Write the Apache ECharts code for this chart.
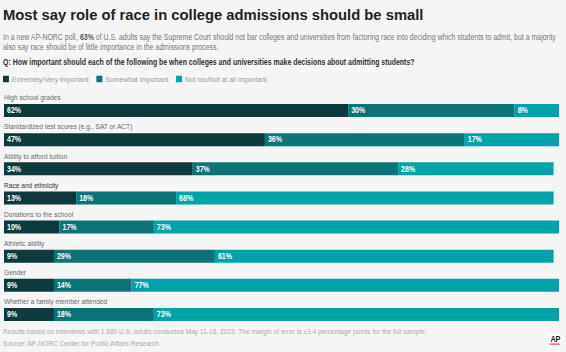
<!DOCTYPE html>
<html>
<head>
<meta charset="utf-8">
<script src="https://cdn.jsdelivr.net/npm/echarts@6/dist/echarts.min.js"></script>
<style>
  html, body { margin: 0; padding: 0; background: #f5f5f5; overflow: hidden; }
  /* the reference uses a narrow face; squeeze the whole drawing horizontally */
  #chart { width: 666px; height: 352px; transform: scaleX(0.85); transform-origin: 0 0; }
</style>
</head>
<body>
<div id="chart"></div>
<script>
var FONT = '"Liberation Sans", Arial, sans-serif';
var SQ = 0.85; // horizontal squeeze of the container

var categories = [
    'High school grades',
    'Standardized test scores (e.g., SAT or ACT)',
    'Ability to afford tuition',
    'Race and ethnicity',
    'Donations to the school',
    'Athletic ability',
    'Gender',
    'Whether a family member attended'
];
var seriesNames = ['Extremely/Very important', 'Somewhat important', 'Not too/Not at all important'];
var veryImportant = [62, 47, 34, 13, 10, 9, 9, 9];
var somewhatImportant = [30, 36, 37, 18, 17, 29, 14, 18];
var notImportant = [8, 17, 28, 68, 73, 61, 77, 73];
var colors = ['#0e3a3d', '#0c7477', '#00a3a7'];

var chart = echarts.init(document.getElementById('chart'), null, { renderer: 'svg' });

function barSeries(name, data, color) {
    return {
        name: name,
        type: 'bar',
        stack: 'total',
        data: data,
        barWidth: 13,
        itemStyle: { color: color },
        label: {
            show: true,
            position: 'insideLeft',
            distance: 3.5,
            formatter: '{c}%',
            color: '#fff',
            fontFamily: FONT,
            fontWeight: 'bold',
            fontSize: 8.3
        },
        emphasis: { disabled: true }
    };
}

var option = {
    backgroundColor: '#f5f5f5',
    animation: false,
    textStyle: { fontFamily: FONT },
    legend: {
        left: 3.5,
        top: 75,
        padding: 0,
        itemWidth: 7,
        itemHeight: 6.5,
        itemGap: 9,
        icon: 'rect',
        textStyle: { color: '#999', fontSize: 8.1, fontFamily: FONT, padding: [0, 0, 0, -1.5] },
        data: seriesNames
    },
    grid: { left: 4.7, right: 8.2, top: 96, height: 233, containLabel: false },
    xAxis: {
        type: 'value',
        min: 0,
        max: 100,
        show: false
    },
    yAxis: {
        type: 'category',
        data: categories,
        inverse: true,
        axisLine: { show: false },
        axisTick: { show: false },
        axisLabel: {
            inside: true,
            margin: 0,
            align: 'left',
            verticalAlign: 'bottom',
            padding: [0, 0, 9, 0],
            fontSize: 7.8,
            fontFamily: FONT,
            color: function (v) { return v === 'Race and ethnicity' ? '#333' : '#6a6a6a'; }
        }
    },
    series: [
        barSeries(seriesNames[0], veryImportant, colors[0]),
        barSeries(seriesNames[1], somewhatImportant, colors[1]),
        barSeries(seriesNames[2], notImportant, colors[2])
    ],
    graphic: [
        {
            type: 'text', left: 3.5, top: 7.5, scaleX: 1 / SQ,
            style: { text: 'Most say role of race in college admissions should be small', font: 'bold 14.8px ' + FONT, fill: '#222' }
        },
        {
            type: 'text', left: 3.5, top: 32,
            style: {
                text: 'In a new AP-NORC poll, {b|63%} of U.S. adults say the Supreme Court should not bar colleges and universities from factoring race into deciding which students to admit, but a majority\nalso say race should be of little importance in the admissions process.',
                font: '8.2px ' + FONT,
                fill: '#777',
                lineHeight: 10.5,
                rich: { b: { font: 'bold 8.2px ' + FONT, fill: '#555' } }
            }
        },
        {
            type: 'text', left: 3.5, top: 58,
            style: { text: 'Q: How important should each of the following be when colleges and universities make decisions about admitting students?', font: 'bold 8.2px ' + FONT, fill: '#333' }
        },
        {
            type: 'text', left: 3.5, top: 326,
            style: {
                text: 'Results based on interviews with 1,680 U.S. adults conducted May 11-16, 2023. The margin of error is \u00b13.4 percentage points for the full sample.\nSource: AP-NORC Center for Public Affairs Research',
                font: '7.8px ' + FONT,
                fill: '#aaa',
                lineHeight: 11.5
            }
        },
        {
            type: 'rect', left: 646, top: 334,
            shape: { width: 13, height: 9.5 },
            style: { fill: '#fff' }
        },
        {
            type: 'text', left: 647.5, top: 335,
            style: { text: 'AP', font: 'bold 8.5px ' + FONT, fill: '#222' }
        },
        {
            type: 'rect', left: 647, top: 343.5,
            shape: { width: 11.5, height: 1.2 },
            style: { fill: '#e8344e' }
        }
    ]
};

chart.setOption(option);
window.addEventListener('resize', chart.resize);
</script>
</body>
</html>
